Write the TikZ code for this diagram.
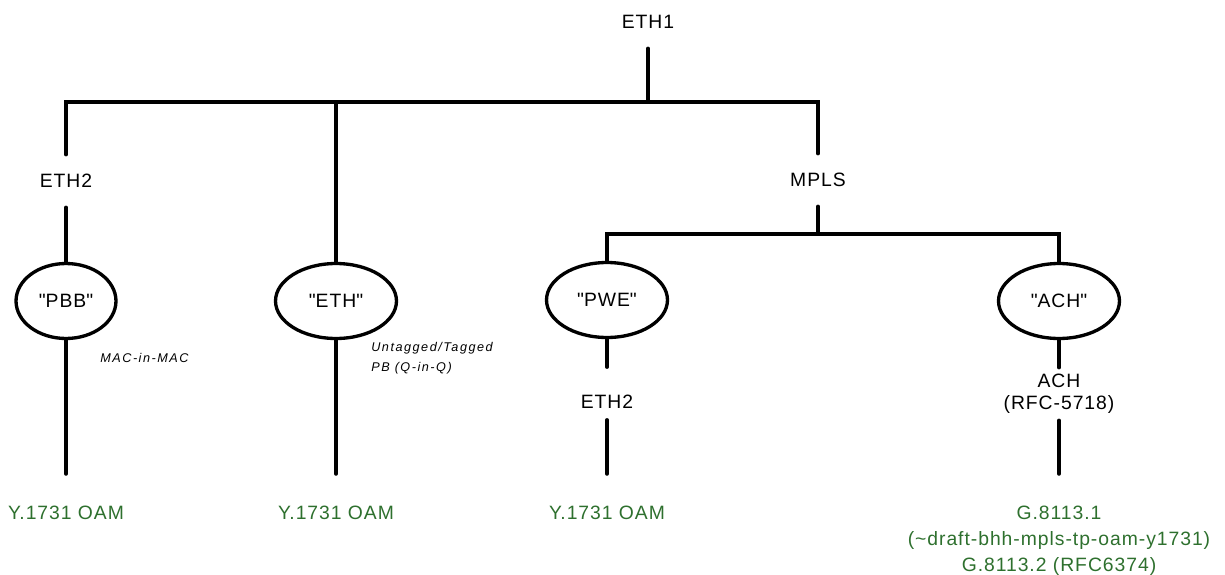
\documentclass[tikz,border=0pt]{standalone}
\usepackage{fontspec}
\setmainfont[LetterSpace=5]{Liberation Sans}
\newfontfamily\notefont[LetterSpace=12]{Liberation Sans}
\usetikzlibrary{shapes.geometric}
\definecolor{oamgreen}{RGB}{46,112,46}
\newcommand{\qt}[1]{\textquotedbl#1\textquotedbl}
\tikzset{
  wire/.style={line width=2pt, line cap=round},
  lbl/.style={inner sep=0pt, minimum height=1.04cm, font=\fontsize{11}{13}\selectfont},
  proto/.style={ellipse, draw, line width=1.9pt, minimum height=1.5cm, minimum width=2.42cm, font=\fontsize{11}{13}\selectfont},
  oam/.style={anchor=north, inner sep=0pt, outer sep=0.64cm, align=center, text=oamgreen, font=\fontsize{11}{14.7}\selectfont},
  note/.style={anchor=west, inner sep=0pt, align=left, font=\notefont\itshape\fontsize{7.2}{11.3}\selectfont}
}
\begin{document}
\begin{tikzpicture}[x=0.02cm, y=-0.02cm]
  \useasboundingbox (0,0) rectangle (1225,575);
  % labels on the tree
  \node[lbl] (eth1) at (648,22) {ETH1};
  \node[lbl] (eth2a) at (66,181) {ETH2};
  \node[lbl] (mpls) at (818,180) {MPLS};
  \node[lbl] (eth2b) at (607,402) {ETH2};
  \node[lbl, align=center, font=\fontsize{11}{12.5}\selectfont] (achtxt) at (1059,394) {ACH\\(RFC-5718)};
  % encapsulations
  \node[proto, minimum width=2cm] (pbb) at (66,301) {\qt{PBB}};
  \node[proto] (eth) at (336,301) {\qt{ETH}};
  \node[proto] (pwe) at (607,300) {\qt{PWE}};
  \node[proto] (ach) at (1059,301) {\qt{ACH}};
  % OAM
  \node[oam] (oam1) at (66,474) {Y.1731 OAM};
  \node[oam] (oam2) at (336,474) {Y.1731 OAM};
  \node[oam] (oam3) at (607,474) {Y.1731 OAM};
  \node[oam] (oam4) at (1059,474) {G.8113.1\\(\textasciitilde draft-bhh-mpls-tp-oam-y1731)\\G.8113.2 (RFC6374)};
  \node[note] (macmac) at (100,358) {MAC-in-MAC};
  \node[note] (qinq) at (371,358) {Untagged/Tagged\\PB (Q-in-Q)};
  % bars
  \coordinate (top) at (648,102);
  \coordinate (topl) at (66,102);
  \coordinate (topm) at (336,102);
  \coordinate (topr) at (818,102);
  \coordinate (mid) at (818,234);
  \coordinate (midl) at (607,234);
  \coordinate (midr) at (1059,234);
  \draw[wire] (eth1) -- (top);
  \draw[wire] (eth2a) -- (topl) -- (topr) -- (mpls);
  \draw[wire] (eth) -- (topm);
  \draw[wire] (mpls) -- (mid);
  \draw[wire] (pwe) -- (midl) -- (midr) -- (ach);
  % down to OAM
  \draw[wire] (eth2a) -- (pbb);
  \draw[wire] (pbb) -- (oam1);
  \draw[wire] (eth) -- (oam2);
  \draw[wire] (pwe) -- ([yshift=1.7mm]eth2b.north);
  \draw[wire] ([yshift=1.7mm]eth2b.south) -- (oam3);
  \draw[wire] (ach) -- (achtxt);
  \draw[wire] (achtxt) -- (oam4);
\end{tikzpicture}
\end{document}
